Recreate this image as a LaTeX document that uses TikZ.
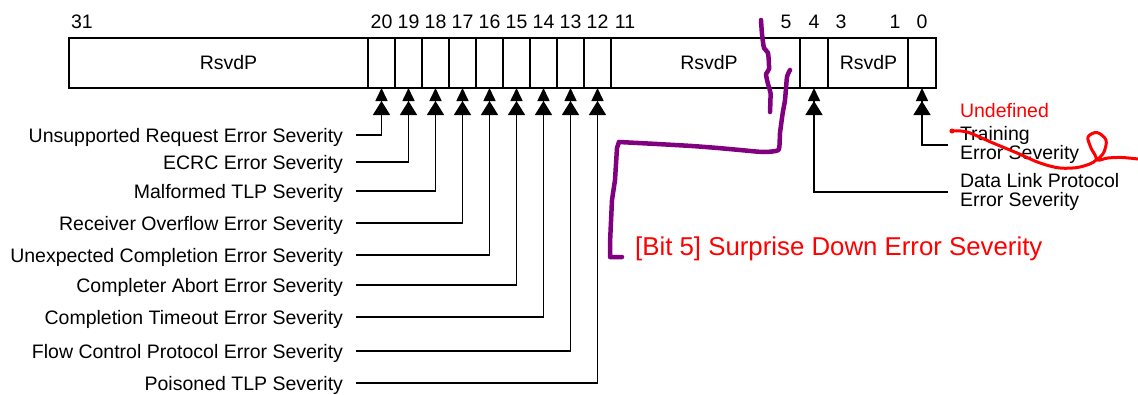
\documentclass[tikz,border=0pt]{standalone}
\usepackage{fontspec}
\setmainfont{Liberation Sans}
\usetikzlibrary{arrows.meta}
\definecolor{scribblepurple}{RGB}{128,0,128}
\definecolor{notered}{RGB}{255,0,0}
\begin{document}
\begin{tikzpicture}[x=1pt,y=-1pt,
  txt/.style={font=\fontsize{19.5}{18.5}\selectfont, inner sep=0pt, outer sep=0pt},
  cell/.style={draw, line width=1.8pt, inner sep=0pt, outer sep=0pt, minimum height=50pt},
  bitnum/.style={txt, anchor=base},
  lbl/.style={txt, anchor=east, text height=14pt, text depth=0pt},
  rlbl/.style={txt, anchor=west, align=left, inner xsep=12pt},
  arr/.style={line width=1.6pt, -{Triangle[width=17pt,length=14pt] Triangle[width=12pt,length=13pt]}},
  purpleink/.style={draw=scribblepurple, line width=4.5pt, line cap=round, line join=round},
  redink/.style={draw=notered, line width=3pt, line cap=round, line join=round}
]
\useasboundingbox[fill=white] (0,0) rectangle (1138,394);

% register cells
\node[cell, minimum width=299pt] (c31) at (218.5,63) {};
\foreach \b/\x in {20/381.5,19/408.5,18/435.5,17/462.5,16/489.5,15/516.5,14/543.5,13/570.5,12/597.5}
  \node[cell, minimum width=27pt] (c\b) at (\x,63) {};
\node[cell, minimum width=189pt] (c11) at (705.5,63) {};
\node[cell, minimum width=28pt] (c4) at (814,63) {};
\node[cell, minimum width=80pt] (c3) at (868,63) {};
\node[cell, minimum width=28pt] (c0) at (922,63) {};

% field texts
\node[txt] (r1) at (228.5,63) {RsvdP};
\node[txt] (r2) at (709,63) {RsvdP};
\node[txt] (r3) at (868.5,63) {RsvdP};

% bit numbers
\node[bitnum] (n31) at (82,28) {31};
\foreach \b/\x in {20/381.5,19/408.5,18/435.5,17/462.5,16/489.5,15/516.5,14/543.5,13/570.5,12/597.5}
  \node[bitnum] (n\b) at (\x,28) {\b};
\node[bitnum] (n11) at (625,28) {11};
\node[bitnum] (n5) at (786,28) {5};
\node[bitnum] (n4) at (814,28) {4};
\node[bitnum] (n3) at (841,28) {3};
\node[bitnum] (n1) at (895,28) {1};
\node[bitnum] (n0) at (922,28) {0};

% left labels
\node[lbl] (l20) at (343,135) {Unsupported Request Error Severity};
\node[lbl] (l19) at (343,162) {ECRC Error Severity};
\node[lbl] (l18) at (343,191) {Malformed TLP Severity};
\node[lbl] (l17) at (343,223) {Receiver Overflow Error Severity};
\node[lbl] (l16) at (343,255) {Unexpected Completion Error Severity};
\node[lbl] (l15) at (343,285) {Completer Abort Error Severity};
\node[lbl] (l14) at (343,317) {Completion Timeout Error Severity};
\node[lbl] (l13) at (343,351) {Flow Control Protocol Error Severity};
\node[lbl] (l12) at (343,383) {Poisoned TLP Severity};

\foreach \b in {20,19,18,17,16,15,14,13,12}
  \draw[arr] ([xshift=13pt]l\b.east) -| (c\b.south);

% right labels
\node[txt, anchor=base west, text=notered] (undef) at (960,117) {Undefined};
\node[rlbl] (l0) at (948,145) {Training\\Error Severity};
\node[rlbl] (l4) at (948,192) {Data Link Protocol\\Error Severity};
\draw[arr] (l0.west) -| (c0.south);
\draw[arr] (l4.west) -| (c4.south);

\node[anchor=base west, inner sep=0pt, text=notered, font=\fontsize{25.8}{30}\selectfont] (sd) at (635,255) {[Bit 5] Surprise Down Error Severity};

% purple annotation strokes
\draw[purpleink] plot[smooth, tension=0.4] coordinates {(761,20) (762,34) (764,48) (768,53) (769,69) (766,74) (768,84) (770.5,93) (770,112)};
\draw[purpleink] plot[tension=0.3, smooth] coordinates {(790,70) (787,77) (785,100) (782.7,113) (780,133) (778.5,150) (763,152) (740,150) (718,148) (692,146) (657,144) (619,142)};
\draw[purpleink] (619,142) -- (617,148) -- (615,180) -- (612,200) -- (610,243) -- (610,257) -- (622,257);

% red strike-through scribble
\draw[redink] plot[smooth, tension=0.55] coordinates {(951,131) (967,132) (993,143) (1017,153) (1040,163) (1060,168) (1080,167) (1096,160) (1091,148) (1088,137) (1097,132.5) (1106,140) (1104,152) (1098,160) (1108,158) (1122,157.5) (1138,159)};
\fill[notered] (952,131) circle (2.5pt);
\end{tikzpicture}
\end{document}
